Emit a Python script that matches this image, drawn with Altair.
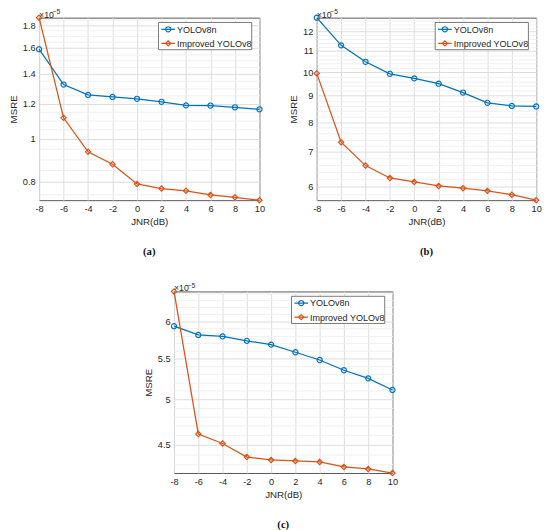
import altair as alt
import pandas as pd

# ---------------- data (values in units of 1e-5) ----------------
jnr = [-8, -6, -4, -2, 0, 2, 4, 6, 8, 10]
series_names = ["YOLOv8n", "Improved YOLOv8"]

a_yolo = [1.59, 1.324, 1.255, 1.242, 1.230, 1.211, 1.189, 1.188, 1.177, 1.165]
a_imp = [1.872, 1.115, 0.935, 0.877, 0.792, 0.773, 0.764, 0.748, 0.739, 0.728]

b_yolo = [12.77, 11.28, 10.48, 9.93, 9.73, 9.50, 9.13, 8.72, 8.60, 8.58]
b_imp = [9.95, 7.31, 6.585, 6.23, 6.12, 6.01, 5.95, 5.88, 5.78, 5.64]

c_yolo = [5.93, 5.81, 5.79, 5.73, 5.68, 5.58, 5.48, 5.35, 5.25, 5.11]
c_imp = [6.43, 4.61, 4.51, 4.37, 4.34, 4.33, 4.32, 4.27, 4.25, 4.21]

x_ticks = [-8, -6, -4, -2, 0, 2, 4, 6, 8, 10]
a_major = [0.8, 1, 1.2, 1.4, 1.6, 1.8]
b_major = [6, 7, 8, 9, 10, 11, 12]
c_major = [4.5, 5, 5.5, 6]
a_minor = [round(0.75 + 0.05 * i, 2) for i in range(23)]
b_minor = [round(5.8 + 0.2 * i, 1) for i in range(35)]
c_minor = [round(4.3 + 0.1 * i, 1) for i in range(22)]

# ---------------- styling ----------------
FONT = "Liberation Sans"
TXT = "#262626"
colors = ["#0072BD", "#D95319"]
shapes = ["circle", "diamond"]
ONE = alt.Data(values=[{"k": 1}])


def legend_layers(w):
    """MATLAB-style legend box drawn in the top-right corner of the panel."""
    right = w - 8
    left = right - 96
    out = [
        alt.Chart(ONE).mark_rect(fill="white", stroke="#555555", strokeWidth=0.8).encode(
            x=alt.value(left), x2=alt.value(right), y=alt.value(5), y2=alt.value(33)
        )
    ]
    for i, (name, col, shp) in enumerate(zip(series_names, colors, shapes)):
        yy = 12 + 14.5 * i
        out.append(alt.Chart(ONE).mark_rule(color=col, strokeWidth=1.3).encode(
            x=alt.value(left + 3), x2=alt.value(left + 17), y=alt.value(yy)))
        out.append(alt.Chart(ONE).mark_point(shape=shp, filled=False, color=col, size=28,
                                             strokeWidth=1.2, opacity=1).encode(
            x=alt.value(left + 10), y=alt.value(yy)))
        out.append(alt.Chart(ONE).mark_text(text=name, align="left", baseline="middle",
                                            font=FONT, fontSize=9.3, color=TXT).encode(
            x=alt.value(left + 19), y=alt.value(yy + 0.5)))
    return out


def panel(yolo, imp, major, minor, caption, w, h):
    df = pd.DataFrame({
        "JNR": jnr + jnr,
        "MSRE": yolo + imp,
        "series": [series_names[0]] * len(jnr) + [series_names[1]] * len(jnr),
    })
    base = alt.Chart(df)
    x = alt.X(
        "JNR:Q",
        scale=alt.Scale(domain=[-8, 10], nice=False),
        axis=alt.Axis(
            values=x_ticks, labelExpr="'' + datum.value", title="JNR(dB)", labelFlush=False,
            labelOverlap=False, gridColor="#dcdcdc", labelPadding=4, titlePadding=4,
        ),
    )
    is_major = f"indexof({major}, datum.value) >= 0"
    y = alt.Y(
        "MSRE:Q",
        scale=alt.Scale(type="log", nice=False, zero=False),
        axis=alt.Axis(
            values=minor, title="MSRE", labelFlush=False, labelOverlap=False,
            labelExpr=f"{is_major} ? format(datum.value, '~g') : ''",
            gridColor={"condition": {"test": is_major, "value": "#dcdcdc"}, "value": "#f0f0f0"},
            labelPadding=4, titlePadding=4,
        ),
    )
    cscale = alt.Scale(domain=series_names, range=colors)
    lines = base.mark_line(strokeWidth=1.3).encode(
        x=x, y=y, color=alt.Color("series:N", scale=cscale, legend=None)
    )
    pts_a = base.transform_filter(alt.datum.series == series_names[0]).mark_point(
        shape="circle", filled=False, size=28, strokeWidth=1.2, opacity=1
    ).encode(x=x, y=y, color=alt.Color("series:N", scale=cscale, legend=None))
    pts_b = base.transform_filter(alt.datum.series == series_names[1]).mark_point(
        shape="diamond", filled=False, size=30, strokeWidth=1.2, opacity=1
    ).encode(x=x, y=y, color=alt.Color("series:N", scale=cscale, legend=None))
    exp_base = alt.Chart(ONE).mark_text(
        text="×10", align="left", baseline="alphabetic", fontSize=9, font=FONT, color=TXT
    ).encode(x=alt.value(0), y=alt.value(0))
    exp_sup = alt.Chart(ONE).mark_text(
        text="−5", align="left", baseline="alphabetic", fontSize=7, font=FONT, color=TXT
    ).encode(x=alt.value(14), y=alt.value(-4))
    return alt.layer(lines, pts_a, pts_b, *legend_layers(w), exp_base, exp_sup).properties(
        width=w, height=h,
        title=alt.TitleParams(caption, orient="bottom", anchor="middle", frame="group",
                              font="Liberation Serif", fontSize=11, fontWeight="bold",
                              color="#111111", offset=20),
    )


pa = panel(a_yolo, a_imp, a_major, a_minor, "(a)", 227, 188)
pb = panel(b_yolo, b_imp, b_major, b_minor, "(b)", 226, 188)
pc = panel(c_yolo, c_imp, c_major, c_minor, "(c)", 225, 187)

spacer = alt.Chart(ONE).mark_point(opacity=0).encode(
    x=alt.value(0), y=alt.value(0)
).properties(width=95, height=1, view=alt.ViewBackground(stroke=None))

top = alt.hconcat(pa, pb, spacing=23)
bottom = alt.hconcat(spacer, pc, spacing=12)

chart = alt.vconcat(top, bottom, spacing=24).properties(
    padding={"left": 0, "top": -9, "right": 0, "bottom": 0}
).configure_view(
    stroke="#555555", strokeWidth=1
).configure_axis(
    labelFont=FONT, titleFont=FONT, labelFontSize=9.5, titleFontSize=10,
    titleFontWeight="normal", labelColor=TXT, titleColor=TXT, ticks=False, domain=False,
).configure_text(font=FONT)

chart.save("out.html", embed_options={"renderer": "svg", "actions": False})
